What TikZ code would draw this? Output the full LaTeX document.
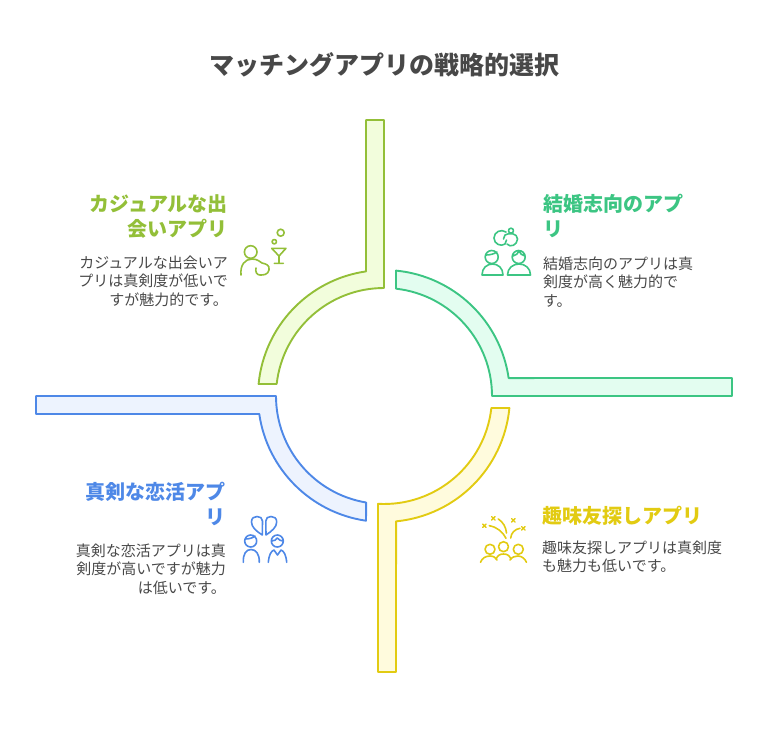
\documentclass[tikz,border=0pt]{standalone}
\usepackage{fontspec}
\setmainfont{Noto Sans CJK JP}
\definecolor{limeline}{HTML}{93BF38}
\definecolor{limefill}{HTML}{F2FDDC}
\definecolor{tealline}{HTML}{3CC583}
\definecolor{tealfill}{HTML}{E3FDF0}
\definecolor{yellowline}{HTML}{E2CB12}
\definecolor{yellowfill}{HTML}{FFFBDD}
\definecolor{blueline}{HTML}{4E88E7}
\definecolor{bluefill}{HTML}{EDF3FE}
\definecolor{bodygray}{HTML}{484848}
\begin{document}
\begin{tikzpicture}[x=1pt,y=-1pt,
        band/.style={line width=1.9pt,line join=round},
        icon/.style={line width=1.6pt,line cap=round,line join=round},
        headtext/.style={inner sep=0pt,font=\fontsize{20}{25}\selectfont\bfseries},
        bodytext/.style={inner sep=0pt,text=bodygray,font=\fontsize{15}{18.5}\selectfont}]
    \useasboundingbox (0,0) rectangle (768,732);
    \node[inner sep=0pt,text=bodygray,font=\fontsize{25}{29}\selectfont\bfseries] (title) at (384,65) {マッチングアプリの戦略的選択};

    \draw[band,draw=limeline,fill=limefill] (366,120) -- (384,120) -- (384,288)
        arc[start angle=90,end angle=173.6,radius=108pt] -- (258.6,384)
        arc[start angle=174.5,end angle=98.2,radius=126pt] -- cycle;
    \draw[band,draw=tealline,fill=tealfill] (396,270.6)
        arc[start angle=84.5,end angle=8.2,radius=126pt] -- (732,378) -- (732,396) -- (492,396)
        arc[start angle=0,end angle=83.6,radius=108pt] -- cycle;
    \draw[band,draw=yellowline,fill=yellowfill] (491.3,408) -- (509.4,408)
        arc[start angle=-5.5,end angle=-84.5,radius=126pt] -- (396,672) -- (378,672) -- (378,503.8)
        arc[start angle=-93.2,end angle=-6.4,radius=108pt] -- cycle;
    \draw[band,draw=blueline,fill=bluefill] (36,396) -- (276,396)
        arc[start angle=180,end angle=260.5,radius=108pt] -- (366,520.7)
        arc[start angle=261.8,end angle=188.2,radius=126pt] -- (36,414) -- cycle;

    % lime side
    \node[headtext,text=limeline,anchor=north east,align=right] (limehead) at (228,194) {カジュアルな出\\会いアプリ};
    \node[bodytext,anchor=north east,align=right] (limebody) at (228,255.5) {カジュアルな出会いア\\プリは真剣度が低いで\\すが魅力的です。};
    \draw[icon,limeline] (250.7,252) circle[radius=6.3];
    \draw[icon,limeline] (241,275) .. controls (240,265) and (245,259) .. (252,259)
        .. controls (258,259) and (260,262) .. (262,263) .. controls (266,264) and (270,265) .. (269,270)
        .. controls (268,275) and (263,275) .. (260,275) .. controls (257,275) and (255,272) .. (256,268);
    \draw[icon,limeline] (271.7,248.3) -- (286,248.3) -- (279,256) -- cycle (279,256) -- (279,263.3) (274.3,263.3) -- (283.3,263.3);
    \draw[icon,limeline] (280.7,232.7) circle[radius=3.5] (274.3,241.7) circle[radius=2.2];

    % teal side
    \node[headtext,text=tealline,anchor=north west,align=left] (tealhead) at (543,194) {結婚志向のアプ\\リ};
    \node[bodytext,anchor=north west,align=left] (tealbody) at (543,256.5) {結婚志向のアプリは真\\剣度が高く魅力的で\\す。};
    \draw[icon,tealline] (506,232) .. controls (501,228.5) and (494,232) .. (494,238)
        .. controls (494,244) and (501,247) .. (505,244) (505,244) -- (506.5,240);
    \draw[icon,tealline] (505,235) .. controls (509,232.5) and (517.5,233) .. (517.5,239)
        .. controls (517.5,245) and (510,248) .. (507,244) (505,235) -- (503.5,239);
    \draw[icon,tealline] (511,230.7) circle[radius=2.5];
    \draw[icon,tealline] (491.7,257) circle[radius=6.5] (486,255) .. controls (490,255) and (494,254) .. (497,252);
    \draw[icon,tealline] (482,275) -- (503,275) .. controls (503,268) and (498,264) .. (492.5,264)
        .. controls (487,264) and (482,268) .. (482,275) -- cycle;
    \draw[icon,tealline] (518.7,257) circle[radius=6.5] (513,256) .. controls (516,255) and (518,254) .. (519,251) .. controls (520,254) and (522,255) .. (525,256);
    \draw[icon,tealline] (507.5,275) -- (530.5,275) .. controls (530.5,268) and (525,264) .. (519,264)
        .. controls (513,264) and (507.5,268) .. (507.5,275) -- cycle;

    % yellow side
    \node[headtext,text=yellowline,anchor=north west,align=left] (yellowhead) at (542,506) {趣味友探しアプリ};
    \node[bodytext,anchor=north west,align=left] (yellowbody) at (542,540.5) {趣味友探しアプリは真剣度\\も魅力も低いです。};
    \draw[icon,yellowline] (490,549.3) circle[radius=5] (503.5,546.7) circle[radius=5] (518.3,549.3) circle[radius=5];
    \draw[icon,yellowline] (480.5,562.3) .. controls (482,558) and (486,556) .. (490,556) .. controls (494,556) and (496,558) .. (497,560);
    \draw[icon,yellowline] (496,559) .. controls (498,555) and (500,554) .. (503.5,554) .. controls (507,554) and (509,555) .. (511,559);
    \draw[icon,yellowline] (510,560) .. controls (512,557) and (515,556) .. (518,556) .. controls (522,556) and (525,559) .. (526.5,562.3);
    \draw[icon,yellowline] (506,538.3) .. controls (503,532) and (497,527) .. (489.3,525.7)
        (506.5,533) .. controls (506,527) and (503,522) .. (498.3,519)
        (510.7,538) .. controls (511,533) and (515,529) .. (520,528.3);
    \foreach \sx/\sy in {484.3/525.7,493.3/518.3,513.3/520.3,523.3/528.3}
        \draw[icon,yellowline,line width=1.4pt] (\sx-1.7,\sy-1.7) -- (\sx+1.7,\sy+1.7) (\sx-1.7,\sy+1.7) -- (\sx+1.7,\sy-1.7);

    % blue side
    \node[headtext,text=blueline,anchor=north east,align=right] (bluehead) at (226,482) {真剣な恋活アプ\\リ};
    \node[bodytext,anchor=north east,align=right] (bluebody) at (226,543.5) {真剣な恋活アプリは真\\剣度が高いですが魅力\\は低いです。};
    \draw[icon,blueline] (262.3,535) .. controls (256,531) and (251.5,527) .. (251.5,522)
        .. controls (251.5,518) and (254,516.5) .. (257,516.5) .. controls (260,516.5) and (262.5,518) .. (262.5,521) -- cycle;
    \draw[icon,blueline] (266,535) .. controls (272,531) and (276.7,527) .. (276.7,522)
        .. controls (276.7,518) and (274,516.5) .. (271,516.5) .. controls (268,516.5) and (265.8,518) .. (265.8,521) -- cycle;
    \draw[icon,blueline] (250.7,541) circle[radius=6] (245,539) .. controls (249,539) and (253,538) .. (255,536);
    \draw[icon,blueline] (243.3,562.3) .. controls (243,554) and (246,549.5) .. (251,549.5) .. controls (256,549.5) and (259.5,554) .. (259.3,562.3);
    \draw[icon,blueline] (277.3,541) circle[radius=6] (271.5,541) .. controls (274,541) and (276,540) .. (277.3,538) .. controls (279,540) and (281,541) .. (283,541);
    \draw[icon,blueline] (268.3,562.3) .. controls (269,555) and (271,551) .. (274,550) -- (277.5,555) -- (281,550) .. controls (284,551) and (286,555) .. (286.7,562.3);
\end{tikzpicture}
\end{document}
